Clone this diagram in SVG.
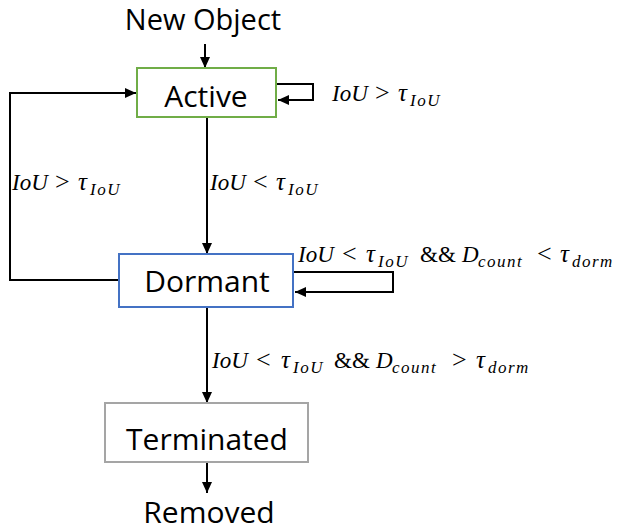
<svg xmlns="http://www.w3.org/2000/svg" width="626" height="532" viewBox="0 0 626 532">
<style>
.lbl{font-family:"Open Sans","Liberation Sans",sans-serif;font-size:30px;fill:#000;text-anchor:middle}
.m{font-family:"Liberation Serif","DejaVu Serif",serif;font-size:23px;font-style:italic;fill:#000}
.op{font-style:normal;font-size:26px}
.tau{font-size:25px}
.sub{font-size:17px;letter-spacing:1.5px}
.box{fill:#fff;stroke-width:2}
.c{fill:none;stroke:#000;stroke-width:2;marker-end:url(#ah)}
</style>
<defs>
<marker id="ah" markerUnits="userSpaceOnUse" markerWidth="12" markerHeight="12" refX="11" refY="6" orient="auto">
<path d="M0,1 L11,6 L0,11 z" fill="#000"/>
</marker>
</defs>
<rect width="626" height="532" fill="#fff"/>
<g id="connectors">
<path class="c" d="M205,44 V68"/>
<path class="c" d="M277,84 H313 V100 H278"/>
<path class="c" d="M207,117 V254"/>
<path class="c" d="M119,280 H10 V93 H136"/>
<path class="c" d="M294,272 H393 V292 H295"/>
<path class="c" d="M207,307 V403"/>
<path class="c" d="M207,462 V493"/>
</g>
<g id="new-object"><text class="lbl" x="203" y="30" style="font-size:29px">New Object</text></g>
<g id="active">
<rect class="box" x="137" y="68" width="139" height="49" stroke="#70AD47"/>
<text class="lbl" x="206" y="107">Active</text>
</g>
<g id="dormant">
<rect class="box" x="119" y="254" width="174" height="53" stroke="#4472C4"/>
<text class="lbl" x="207" y="292">Dormant</text>
</g>
<g id="terminated">
<rect class="box" x="105" y="403" width="203" height="59" stroke="#A5A5A5"/>
<text class="lbl" x="207" y="450">Terminated</text>
</g>
<g id="removed"><text class="lbl" x="209" y="523">Removed</text></g>
<g id="labels">
<text class="m" y="101"><tspan x="332">IoU</tspan><tspan class="op" x="375">&gt;</tspan><tspan class="tau" x="398">τ</tspan><tspan class="sub" x="410" dy="5">IoU</tspan></text>
<text class="m" y="190"><tspan x="12">IoU</tspan><tspan class="op" x="55">&gt;</tspan><tspan class="tau" x="78">τ</tspan><tspan class="sub" x="90" dy="5">IoU</tspan></text>
<text class="m" y="190"><tspan x="210">IoU</tspan><tspan class="op" x="253">&lt;</tspan><tspan class="tau" x="276">τ</tspan><tspan class="sub" x="288" dy="5">IoU</tspan></text>
<text class="m" y="262"><tspan x="298">IoU</tspan><tspan class="op" x="342">&lt;</tspan><tspan class="tau" x="366">τ</tspan><tspan class="sub" x="378" dy="5">IoU</tspan><tspan x="420" dy="-5" style="font-style:normal">&amp;&amp;</tspan><tspan x="462">D</tspan><tspan class="sub" x="478" dy="5">count</tspan><tspan class="op" x="537" dy="-5">&lt;</tspan><tspan class="tau" x="560">τ</tspan><tspan class="sub" x="572" dy="5">dorm</tspan></text>
<text class="m" y="368"><tspan x="212">IoU</tspan><tspan class="op" x="256">&lt;</tspan><tspan class="tau" x="281">τ</tspan><tspan class="sub" x="293" dy="5">IoU</tspan><tspan x="334" dy="-5" style="font-style:normal">&amp;&amp;</tspan><tspan x="376">D</tspan><tspan class="sub" x="392" dy="5">count</tspan><tspan class="op" x="452" dy="-5">&gt;</tspan><tspan class="tau" x="476">τ</tspan><tspan class="sub" x="488" dy="5">dorm</tspan></text>
</g>
</svg>
